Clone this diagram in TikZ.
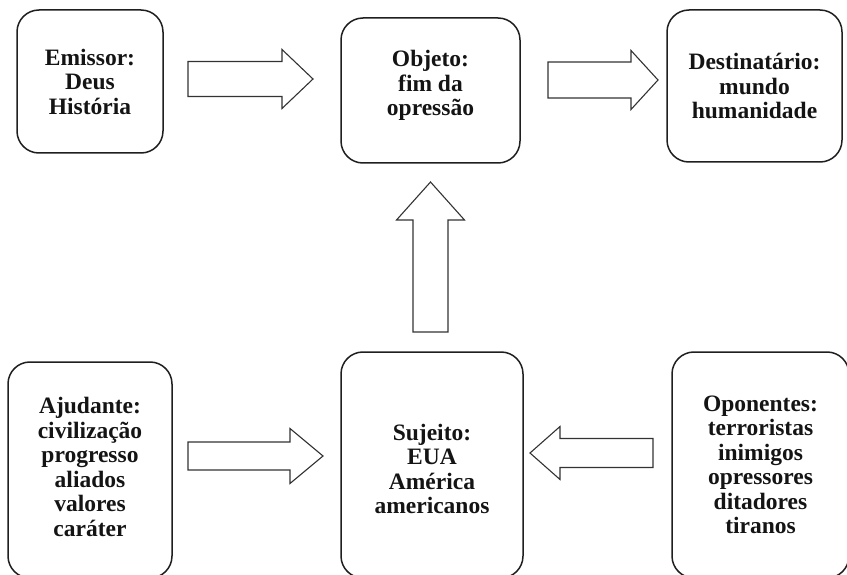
\documentclass[tikz,border=0pt]{standalone}
\usepackage{fontspec}
\setmainfont{Liberation Serif}
\usetikzlibrary{calc}
\tikzset{
  actbox/.style={draw=black!88, line width=1.5pt, rounded corners=22pt, fill=white,
    inner sep=0pt},
  boxtext/.style={align=center, text=black!92, inner sep=0pt,
    font=\bfseries\fontsize{23.5}{24.5}\selectfont},
  blockarrow/.style={draw=black!80, line width=1.1pt, fill=white, line join=miter}
}
% #1 start, #2 tip, #3 body half width, #4 head half width, #5 head length
\newcommand{\blockarr}[5]{%
  \coordinate (hb) at ($(#2)!#5!(#1)$);
  \draw[blockarrow] ($(#1)!#3!90:(#2)$) -- ($(hb)!#3!90:(#2)$) -- ($(hb)!#4!90:(#2)$)
    -- (#2) -- ($(hb)!#4!-90:(#2)$) -- ($(hb)!#3!-90:(#2)$) -- ($(#1)!#3!-90:(#2)$) -- cycle;
}
\begin{document}
\begin{tikzpicture}[x=1pt,y=-1pt]
\useasboundingbox (0,0) rectangle (847,575);
\clip (0,0) rectangle (847,575);

\node[actbox, minimum width=146pt, minimum height=143pt,
  label={[boxtext]center:{Emissor:\\Deus\\História}}] (emissor) at (90,81.5) {};
\node[actbox, minimum width=179pt, minimum height=145pt,
  label={[boxtext, yshift=5pt]center:{Objeto:\\fim da\\opressão}}] (objeto) at (430.5,90.5) {};
\node[actbox, minimum width=175pt, minimum height=152pt,
  label={[boxtext]center:{Destinatário:\\mundo\\humanidade}}] (destin) at (754.5,86) {};
\node[actbox, minimum width=164pt, minimum height=216pt,
  label={[boxtext, yshift=3pt]center:{Ajudante:\\civilização\\progresso\\aliados\\valores\\caráter}}] (ajud) at (90,470) {};
\node[actbox, minimum width=182pt, minimum height=226pt,
  label={[boxtext, yshift=-4pt]center:{Sujeito:\\EUA\\América\\americanos}}] (sujeito) at (432,465) {};
\node[actbox, minimum width=177pt, minimum height=226pt,
  label={[boxtext]center:{Oponentes:\\terroristas\\inimigos\\opressores\\ditadores\\tiranos}}] (opon) at (760.5,465) {};

\coordinate (a1s) at (188,79);  \coordinate (a1t) at (313,79);
\coordinate (a2s) at (548,80);  \coordinate (a2t) at (658,80);
\coordinate (a3s) at (430.5,332); \coordinate (a3t) at (430.5,182);
\coordinate (a4s) at (188,456); \coordinate (a4t) at (323,456);
\coordinate (a5s) at (653,453); \coordinate (a5t) at (530,453);

\blockarr{a1s}{a1t}{17.5pt}{29.5pt}{31pt}
\blockarr{a2s}{a2t}{18pt}{29.5pt}{27pt}
\blockarr{a3s}{a3t}{17.5pt}{34pt}{38pt}
\blockarr{a4s}{a4t}{14pt}{27.5pt}{33pt}
\blockarr{a5s}{a5t}{14.5pt}{26.5pt}{30pt}
\end{tikzpicture}
\end{document}
